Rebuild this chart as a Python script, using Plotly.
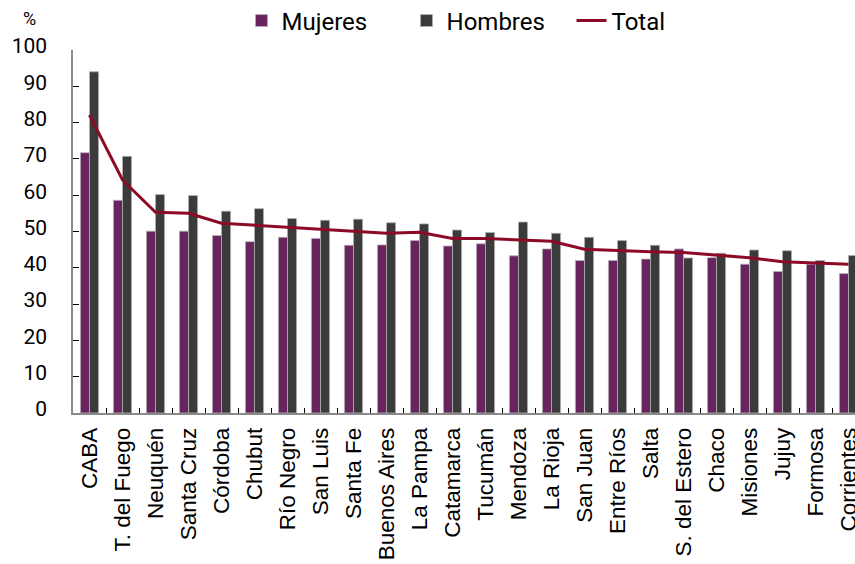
import plotly.graph_objects as go

provincias = ["CABA", "T. del Fuego", "Neuquén", "Santa Cruz", "Córdoba", "Chubut",
              "Río Negro", "San Luis", "Santa Fe", "Buenos Aires", "La Pampa", "Catamarca",
              "Tucumán", "Mendoza", "La Rioja", "San Juan", "Entre Ríos", "Salta",
              "S. del Estero", "Chaco", "Misiones", "Jujuy", "Formosa", "Corrientes"]
mujeres = [71.7, 58.6, 50.1, 50.1, 48.9, 47.2, 48.4, 48.1, 46.2, 46.3, 47.5, 46.0,
           46.6, 43.3, 45.2, 42.0, 42.0, 42.4, 45.2, 42.8, 41.0, 39.0, 41.0, 38.4]
hombres = [94.0, 70.7, 60.2, 59.9, 55.6, 56.3, 53.6, 53.1, 53.4, 52.4, 52.1, 50.4,
           49.7, 52.6, 49.5, 48.4, 47.5, 46.2, 42.7, 44.0, 44.9, 44.7, 42.0, 43.4]
total = [82.1, 64.2, 55.3, 55.0, 52.3, 51.7, 51.1, 50.5, 50.0, 49.5, 49.8, 48.1,
         48.1, 47.7, 47.3, 45.1, 44.7, 44.4, 44.2, 43.4, 42.8, 41.7, 41.4, 41.0]
y_ticks = [0, 10, 20, 30, 40, 50, 60, 70, 80, 90, 100]

fig = go.Figure()
fig.add_trace(go.Bar(x=provincias, y=mujeres, name="Mujeres",
                     marker=dict(color="#68245f", line=dict(color="#b8b0b8", width=0.8))))
fig.add_trace(go.Bar(x=provincias, y=hombres, name="Hombres",
                     marker=dict(color="#3b3b3b", line=dict(color="#b0b0b0", width=0.8))))
fig.add_trace(go.Scatter(x=provincias, y=total, name="Total", mode="lines",
                         line=dict(color="#8c0a26", width=3)))

fig.update_layout(
    width=855, height=564,
    margin=dict(l=73, r=0, t=50, b=151, autoexpand=False),
    plot_bgcolor="white", paper_bgcolor="white",
    barmode="group", bargap=0.45, bargroupgap=0,
    showlegend=True,
    legend=dict(orientation="h", x=0.532, xanchor="center", y=1.08, yanchor="middle",
                yref="paper", font=dict(family="Roboto", size=24, color="black"),
                itemwidth=30, entrywidth=120, tracegroupgap=0, bgcolor="rgba(0,0,0,0)"),
    annotations=[dict(text="%", xref="paper", yref="paper", x=-0.055, y=1.088,
                      xanchor="center", yanchor="middle", showarrow=False,
                      font=dict(family="Roboto", size=18, color="black"))],
)
fig.update_xaxes(
    range=[-0.5, 23.197], showline=True, linecolor="#8a8a8a", linewidth=1.5,
    ticks="inside", tickson="boundaries", ticklen=5, tickcolor="black",
    tickangle=-90, tickfont=dict(family="Liberation Sans, Arial", size=22.5, color="black"),
    ticklabelstandoff=4, automargin=False,
    showgrid=False, zeroline=False,
)
fig.update_yaxes(
    range=[0, 100], tickvals=y_ticks, showline=True, linecolor="#8a8a8a", linewidth=1.5,
    ticks="inside", ticklen=6, tickcolor="black",
    tickfont=dict(family="Roboto", size=21, color="black"), ticklabelstandoff=20,
    ticklabelshift=-4, automargin=False,
    showgrid=False, zeroline=False,
)

fig.write_html("out.html", config={"displayModeBar": False},
               post_script="document.body.style.margin='0';document.body.style.overflow='hidden';")
